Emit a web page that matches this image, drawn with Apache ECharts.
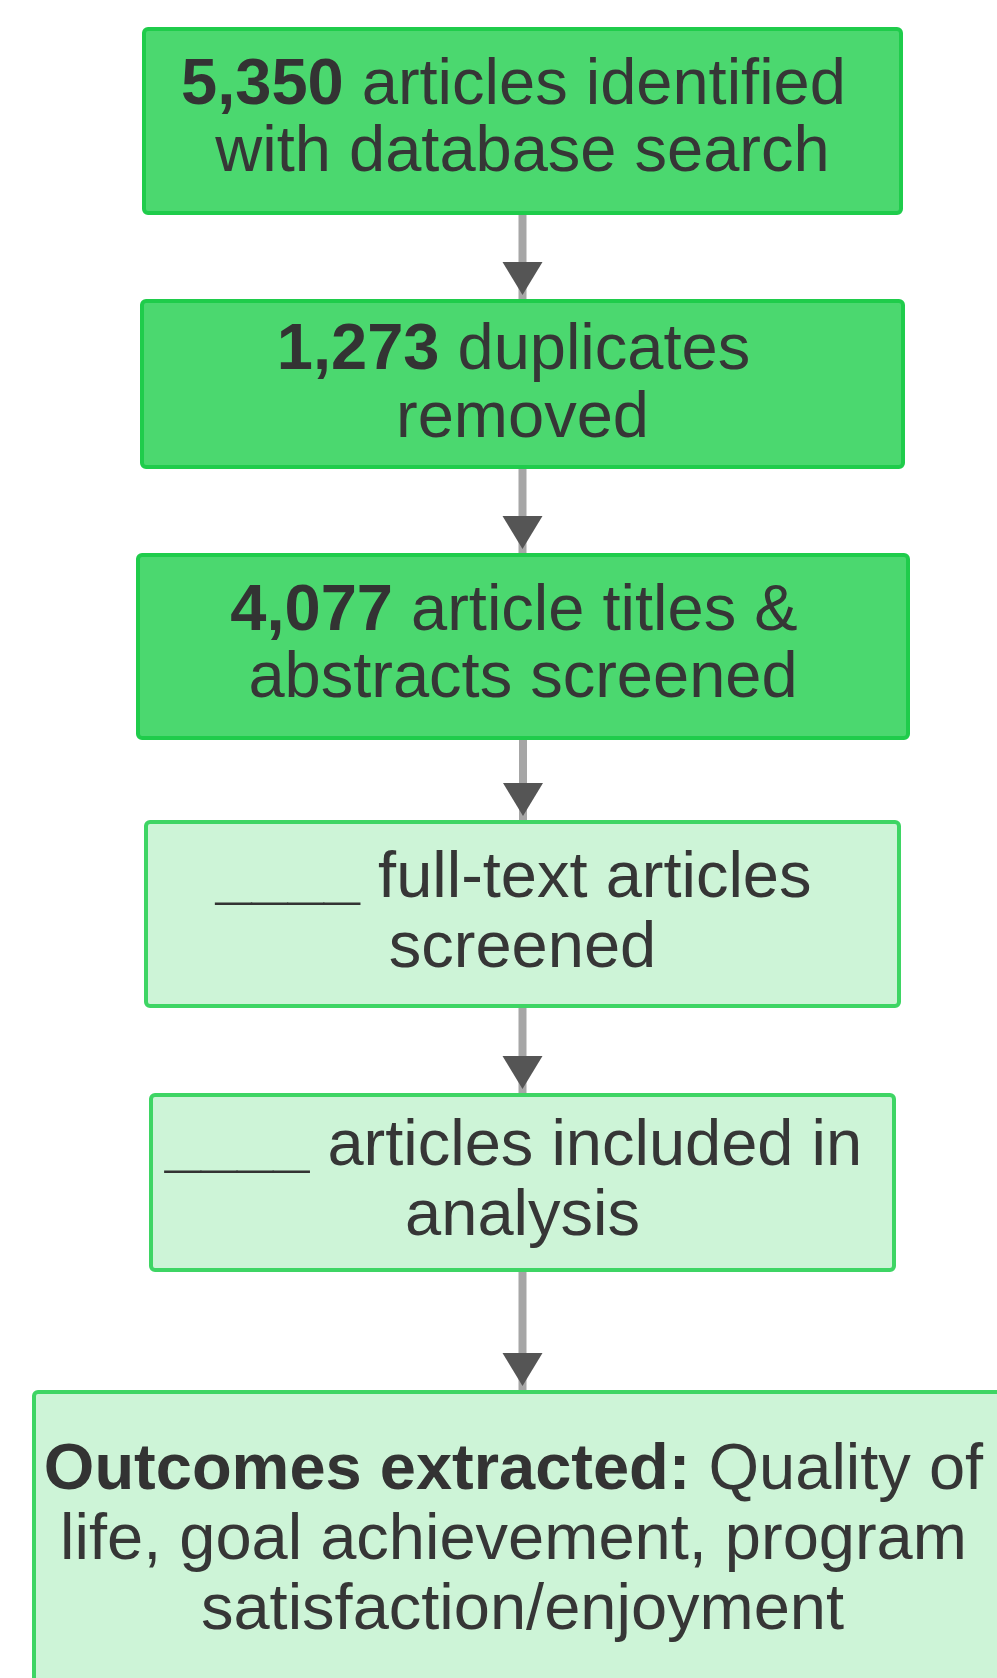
<!DOCTYPE html>
<html lang="en">

<head>
	<meta charset="UTF-8">
	<title>Review flow</title>
	<style>
		html, body { margin: 0; padding: 0; background: #fff; }
	</style>
</head>

<body>
	<div id="main" style="width: 997px;height:1678px;"></div>
	<script src="https://cdn.jsdelivr.net/npm/echarts@6/dist/echarts.min.js"></script>
	<script>
		// step texts: bold lead + rest (trailing spaces kept, like the original wrap)
		var stepLead = ['5,350', '1,273', '4,077', '____', '____', 'Outcomes extracted:'];
		var stepRest = [
			' articles identified \nwith database search',
			' duplicates \nremoved',
			' article titles & \nabstracts screened',
			' full-text articles \nscreened',
			' articles included in \nanalysis',
			' Quality of \nlife, goal achievement, program \nsatisfaction/enjoyment'
		];
		var stepDone = [true, true, true, false, false, false];

		// layout of the boxes (page units, y grows down)
		var boxLeft = [142, 140, 136, 144, 149, 32];
		var boxRight = [903, 905, 910, 901, 896, 1013];
		var boxTop = [27, 299, 553, 820, 1093, 1390];
		var boxBottom = [215, 469, 740, 1008, 1272, 1700];
		var textMid = [120, 385, 646, 914, 1182, 1541];
		var lineGap = [67, 68, 67, 70, 70, 70];

		var myChart = echarts.init(document.getElementById('main'));

		var font = "'Liberation Sans', Arial, sans-serif";

		function renderBox(params, api) {
			var i = api.value(0);
			var p0 = api.coord([boxLeft[i], boxTop[i]]);
			var p1 = api.coord([boxRight[i], boxBottom[i]]);
			var mid = api.coord([(boxLeft[i] + boxRight[i]) / 2, textMid[i]]);
			return {
				type: 'group',
				children: [{
					type: 'rect',
					shape: { x: p0[0] + 2, y: p0[1] + 2, width: p1[0] - p0[0] - 4, height: p1[1] - p0[1] - 4, r: 4 },
					style: {
						fill: stepDone[i] ? '#4bd86f' : '#cdf4d7',
						stroke: stepDone[i] ? '#1fcc4b' : '#3ed564',
						lineWidth: 4
					}
				}, {
					type: 'text',
					style: {
						text: '{b|' + stepLead[i] + '}' + stepRest[i],
						x: mid[0],
						y: mid[1],
						align: 'center',
						verticalAlign: 'middle',
						fontFamily: font,
						fontSize: 65,
						lineHeight: lineGap[i],
						fill: '#363636',
						rich: {
							b: { fontFamily: font, fontSize: 65, lineHeight: lineGap[i], fontWeight: 'bold', fill: '#333' }
						}
					}
				}]
			};
		}

		function renderArrow(params, api) {
			var i = api.value(0);
			var cx = (boxLeft[i] + boxRight[i]) / 2;
			var a = api.coord([cx, boxBottom[i]]);
			var b = api.coord([cx, boxTop[i + 1] + 2]);
			var tip = b[1] - 6;
			return {
				type: 'group',
				children: [{
					type: 'line',
					shape: { x1: a[0], y1: a[1], x2: b[0], y2: b[1] },
					style: { stroke: '#a6a6a6', lineWidth: 8 }
				}, {
					type: 'polygon',
					shape: { points: [[b[0] - 20, tip - 33], [b[0] + 20, tip - 33], [b[0], tip]] },
					style: { fill: '#555555' }
				}]
			};
		}

		var boxData = stepLead.map(function (d, i) { return [i]; });
		var arrowData = boxData.slice(0, boxData.length - 1);

		option = {
			animation: false,
			grid: { left: 0, right: 0, top: 0, bottom: 0 },
			xAxis: { type: 'value', min: 0, max: 997, show: false },
			yAxis: { type: 'value', min: 0, max: 1678, inverse: true, show: false },
			series: [{
				type: 'custom',
				name: 'arrows',
				renderItem: renderArrow,
				data: arrowData,
				silent: true
			}, {
				type: 'custom',
				name: 'steps',
				renderItem: renderBox,
				data: boxData,
				silent: true
			}]
		};

		myChart.setOption(option);
	</script>
</body>

</html>
